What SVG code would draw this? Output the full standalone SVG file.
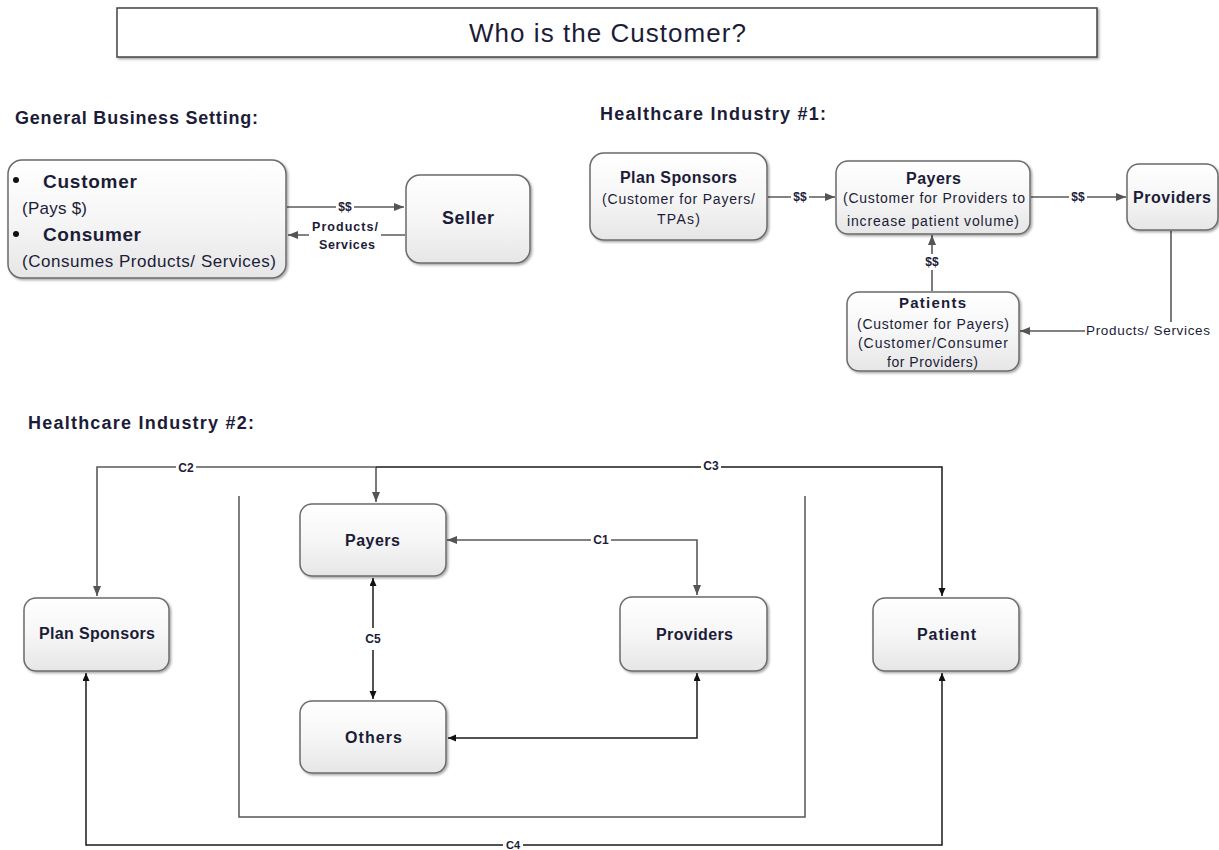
<svg xmlns="http://www.w3.org/2000/svg" width="1219" height="850" viewBox="0 0 1219 850">
<defs>
<linearGradient id="g" x1="0" y1="0" x2="0" y2="1">
<stop offset="0" stop-color="#ffffff"/><stop offset="0.5" stop-color="#f6f6f6"/><stop offset="1" stop-color="#e6e6e6"/>
</linearGradient>
<filter id="sh" x="-10%" y="-10%" width="130%" height="140%">
<feDropShadow dx="1.5" dy="1.5" stdDeviation="1.2" flood-color="#000" flood-opacity="0.35"/>
</filter>
<marker id="ag" markerUnits="userSpaceOnUse" markerWidth="11" markerHeight="9" refX="10" refY="4" orient="auto-start-reverse">
<path d="M0,0 L10,4 L0,8 z" fill="#555"/>
</marker>
<marker id="ak" markerUnits="userSpaceOnUse" markerWidth="9" markerHeight="8" refX="8" refY="3.5" orient="auto-start-reverse">
<path d="M0,0 L8,3.5 L0,7 z" fill="#111"/>
</marker>
<style>
.box{fill:url(#g);stroke:#6b6b6b;stroke-width:1.5;filter:url(#sh)}
text{font-family:"Liberation Sans",Arial,sans-serif;fill:#1c1c38}
.b{font-weight:bold}
.lbl{font-weight:bold;font-size:12px;text-anchor:middle;dominant-baseline:central}
.cg{stroke:#5a5a5a;stroke-width:1.6;fill:none}
.ck{stroke:#1a1a1a;stroke-width:1.5;fill:none}
.bg{fill:#ffffff}
.h{font-size:18px;font-weight:bold}
.s{font-size:14px}
</style>
</defs>
<rect width="1219" height="850" fill="#ffffff"/>

<g id="title">
<rect x="117" y="8" width="980" height="49" fill="#fff" stroke="#444" stroke-width="1.5" filter="url(#sh)"/>
<text x="469" y="42" font-size="26" textLength="277" lengthAdjust="spacing">Who is the Customer?</text>
</g>

<g id="headers">
<text class="h" x="15" y="124" textLength="243" lengthAdjust="spacing">General Business Setting:</text>
<text class="h" x="600" y="120" textLength="226" lengthAdjust="spacing">Healthcare Industry #1:</text>
<text class="h" x="28" y="429" textLength="226" lengthAdjust="spacing">Healthcare Industry #2:</text>
</g>

<g id="container">
<path d="M239,496 V817 H805 V496" fill="none" stroke="#555" stroke-width="1.5"/>
</g>

<g id="connectors">
<!-- section 1 -->
<path class="cg" d="M287,207 H404" marker-end="url(#ag)"/>
<path class="cg" d="M405,235 H288" marker-end="url(#ag)"/>
<rect class="bg" x="336" y="200" width="18" height="14"/>
<text class="lbl" x="345" y="207">$$</text>
<rect class="bg" x="309" y="218" width="72" height="34"/>
<text class="b" x="312" y="231" font-size="12.5" textLength="66" lengthAdjust="spacing">Products/</text>
<text class="b" x="319" y="249" font-size="12.5" textLength="56" lengthAdjust="spacing">Services</text>
<!-- section 2 -->
<path class="cg" d="M768,197 H835" marker-end="url(#ag)"/>
<rect class="bg" x="791" y="190" width="18" height="14"/>
<text class="lbl" x="800" y="197">$$</text>
<path class="cg" d="M1031,197 H1126" marker-end="url(#ag)"/>
<rect class="bg" x="1069" y="190" width="18" height="14"/>
<text class="lbl" x="1078" y="197">$$</text>
<path class="cg" d="M932,291 V235" marker-end="url(#ag)"/>
<rect class="bg" x="923" y="254" width="18" height="16"/>
<text class="lbl" x="932" y="262">$$</text>
<path class="cg" d="M1171,231 V331 H1020" marker-end="url(#ag)"/>
<rect class="bg" x="1085" y="322" width="128" height="17"/>
<text x="1086" y="335" font-size="13.5" textLength="124" lengthAdjust="spacing">Products/ Services</text>
<!-- section 3 -->
<path class="cg" d="M376,467 H97 V596" marker-end="url(#ag)"/>
<path class="cg" d="M376,467 V502" marker-end="url(#ag)"/>
<path class="ck" d="M376,467 H942 V596" marker-end="url(#ak)"/>
<path class="cg" d="M447,540 H697 V595" marker-start="url(#ag)" marker-end="url(#ag)"/>
<path class="ck" d="M373,578 V699" marker-start="url(#ak)" marker-end="url(#ak)"/>
<path class="ck" d="M448,738 H697 V673" marker-start="url(#ak)" marker-end="url(#ak)"/>
<path class="ck" d="M86,673 V845 H942 V673" marker-start="url(#ak)" marker-end="url(#ak)"/>
<rect class="bg" x="176" y="461" width="20" height="14"/>
<text class="lbl" x="186" y="468">C2</text>
<rect class="bg" x="701" y="459" width="20" height="14"/>
<text class="lbl" x="711" y="466">C3</text>
<rect class="bg" x="591" y="533" width="20" height="14"/>
<text class="lbl" x="601" y="540">C1</text>
<rect class="bg" x="364" y="628" width="18" height="22"/>
<text class="lbl" x="373" y="639">C5</text>
<rect class="bg" x="503" y="839" width="20" height="11"/>
<text x="513" y="849" font-size="11" font-weight="bold" text-anchor="middle">C4</text>
</g>

<g id="customer">
<rect class="box" x="8" y="160" width="278" height="118" rx="14"/>
<circle cx="16" cy="180" r="3" fill="#111"/>
<circle cx="16" cy="234" r="3" fill="#111"/>
<text class="b" x="43" y="188" font-size="19" textLength="94" lengthAdjust="spacing">Customer</text>
<text x="22" y="214" font-size="17" textLength="65" lengthAdjust="spacing">(Pays $)</text>
<text class="b" x="43" y="241" font-size="19" textLength="98" lengthAdjust="spacing">Consumer</text>
<text x="22" y="267" font-size="17" textLength="254" lengthAdjust="spacing">(Consumes Products/ Services)</text>
</g>

<g id="seller">
<rect class="box" x="406" y="175" width="124" height="88" rx="14"/>
<text class="b" x="442" y="224" font-size="18" textLength="52" lengthAdjust="spacing">Seller</text>
</g>

<g id="plan-sponsors-1">
<rect class="box" x="590" y="153" width="177" height="87" rx="14"/>
<text class="b" x="620" y="183" font-size="16" textLength="117" lengthAdjust="spacing">Plan Sponsors</text>
<text class="s" x="602" y="204" textLength="153" lengthAdjust="spacing">(Customer for Payers/</text>
<text class="s" x="657" y="224" textLength="43" lengthAdjust="spacing">TPAs)</text>
</g>

<g id="payers-1">
<rect class="box" x="836" y="161" width="194" height="73" rx="12"/>
<text class="b" x="906" y="184" font-size="16" textLength="55" lengthAdjust="spacing">Payers</text>
<text class="s" x="843" y="203" textLength="182" lengthAdjust="spacing">(Customer for Providers to</text>
<text class="s" x="847" y="226" textLength="172" lengthAdjust="spacing">increase patient volume)</text>
</g>

<g id="providers-1">
<rect class="box" x="1127" y="164" width="91" height="66" rx="12"/>
<text class="b" x="1133" y="203" font-size="16" textLength="78" lengthAdjust="spacing">Providers</text>
</g>

<g id="patients-1">
<rect class="box" x="847" y="292" width="172" height="79" rx="12"/>
<text class="b" x="899" y="308" font-size="15" textLength="67" lengthAdjust="spacing">Patients</text>
<text class="s" x="857" y="329" textLength="152" lengthAdjust="spacing">(Customer for Payers)</text>
<text class="s" x="858" y="348" textLength="150" lengthAdjust="spacing">(Customer/Consumer</text>
<text class="s" x="887" y="367" textLength="91" lengthAdjust="spacing">for Providers)</text>
</g>

<g id="plan-sponsors-2">
<rect class="box" x="24" y="598" width="145" height="73" rx="12"/>
<text class="b" x="39" y="639" font-size="16" textLength="116" lengthAdjust="spacing">Plan Sponsors</text>
</g>

<g id="payers-2">
<rect class="box" x="300" y="504" width="146" height="72" rx="12"/>
<text class="b" x="345" y="546" font-size="16" textLength="55" lengthAdjust="spacing">Payers</text>
</g>

<g id="providers-2">
<rect class="box" x="620" y="597" width="147" height="74" rx="12"/>
<text class="b" x="656" y="640" font-size="16" textLength="77" lengthAdjust="spacing">Providers</text>
</g>

<g id="others">
<rect class="box" x="300" y="701" width="146" height="72" rx="12"/>
<text class="b" x="345" y="743" font-size="16" textLength="57" lengthAdjust="spacing">Others</text>
</g>

<g id="patient">
<rect class="box" x="873" y="598" width="146" height="73" rx="12"/>
<text class="b" x="917" y="640" font-size="16" textLength="59" lengthAdjust="spacing">Patient</text>
</g>
</svg>
